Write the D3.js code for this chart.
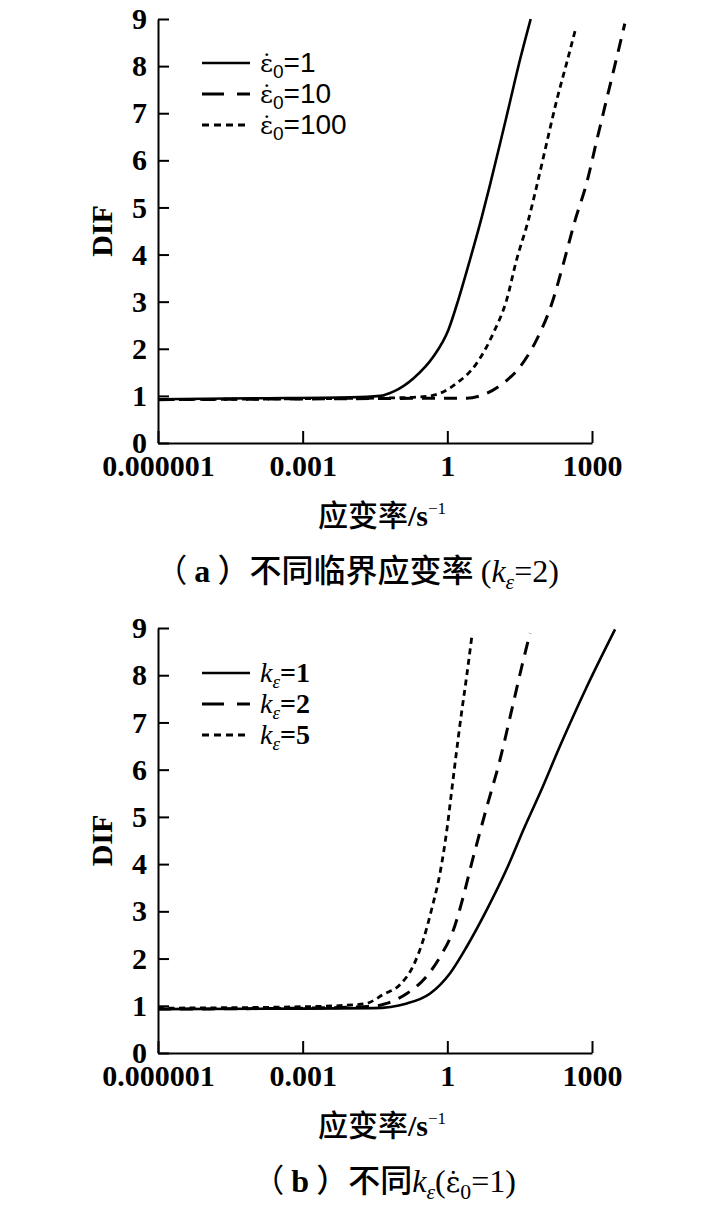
<!DOCTYPE html>
<html>
<head>
<meta charset="utf-8">
<script src="https://cdn.jsdelivr.net/npm/d3@7"></script>
<style>
  html, body { margin: 0; padding: 0; background: #fff; }
  svg { display: block; }
</style>
</head>
<body>
<div id="chart"></div>
<script>
// tick values and labels (shared by both panels)
const rateTicks = [1e-6, 1e-3, 1, 1000];
const rateTickLabels = ["0.000001", "0.001", "1", "1000"];
const difTicks = [0, 1, 2, 3, 4, 5, 6, 7, 8, 9];

// panel (a): different critical strain rates, k_eps = 2   [strain rate, DIF]
const aRate1 = [[1e-6, 0.93], [1e-4, 0.95], [0.01, 0.97], [0.04, 1.0], [0.076, 1.09], [0.197, 1.37],
  [0.51, 1.83], [1.05, 2.4], [1.69, 3.04], [2.95, 3.89], [5.16, 4.79], [7.67, 5.48], [12.3, 6.34],
  [18.2, 7.07], [32.4, 8.15], [53.5, 9.0]];
const aRate10 = [[1e-6, 0.92], [0.01, 0.94], [1, 0.95], [2.5, 0.95], [4.8, 1.0], [14.5, 1.27],
  [32.4, 1.62], [70.8, 2.19], [148, 2.97], [257, 3.82], [447, 4.73], [776, 5.52], [1259, 6.43],
  [1995, 7.28], [3236, 8.17], [4786, 8.9]];
const aRate100 = [[1e-6, 0.92], [1e-3, 0.94], [0.1, 0.96], [0.44, 1.0], [1.57, 1.27], [4.05, 1.69],
  [8.97, 2.33], [17, 3.04], [27.3, 3.89], [47.9, 4.73], [70.8, 5.44], [115, 6.37], [186, 7.28],
  [299, 8.07], [468, 8.83]];

// panel (b): different k_eps, critical rate = 1
const bK1 = [[1e-6, 0.93], [1e-3, 0.94], [0.029, 0.95], [0.145, 1.05], [0.44, 1.26], [1.14, 1.69],
  [2.52, 2.25], [6.56, 3.03], [17.1, 3.9], [40.7, 4.8], [83, 5.5], [217, 6.5], [776, 7.75],
  [3006, 8.97]];
const bK2 = [[1e-6, 0.93], [1e-3, 0.95], [0.029, 0.99], [0.055, 1.05], [0.145, 1.26], [0.37, 1.62],
  [0.71, 2.04], [1.33, 2.6], [2.14, 3.31], [3.2, 4.02], [4.39, 4.55], [6.75, 5.25], [12.3, 6.2],
  [21.6, 7.26], [34.9, 8.18], [51.9, 8.89]];
const bK5 = [[1e-6, 0.95], [1e-3, 0.98], [0.011, 1.02], [0.021, 1.05], [0.047, 1.24], [0.105, 1.45],
  [0.197, 1.85], [0.318, 2.4], [0.474, 3.05], [0.705, 3.81], [0.851, 4.3], [1, 4.8], [1.175, 5.38],
  [1.44, 6.12], [1.92, 7.12], [2.51, 7.97], [3.2, 8.8]];

const W = 711, H = 1213;
const serif = "'Liberation Serif', 'Times New Roman', serif";
const dotSerif = "'DejaVu Serif', serif";
const sans = "'Liberation Sans', Arial, sans-serif";
const cjk = "'Noto Sans CJK SC', sans-serif";

const styles = {
  solid: { width: 2.6, dash: null, legendDash: null },
  dashed: { width: 3, dash: "13,9", legendDash: "22,13" },
  dotted: { width: 2.8, dash: "6,4.5", legendDash: "7,5" }
};

const svg = d3.select("#chart").append("svg")
  .attr("width", W).attr("height", H)
  .attr("viewBox", `0 0 ${W} ${H}`);

svg.append("rect").attr("width", W).attr("height", H).attr("fill", "#fff");

// writes a list of text pieces as tspans ({t, it, sub, afterSub, bold, font, size, weight})
function richText(sel, parts, baseSize) {
  parts.forEach((p) => {
    const ts = sel.append("tspan").text(p.t);
    if (p.font) ts.attr("font-family", p.font);
    if (p.it) ts.attr("font-style", "italic");
    if (p.bold) ts.attr("font-weight", "bold");
    if (p.weight) ts.attr("font-weight", p.weight);
    if (p.sub) ts.attr("font-size", baseSize * 0.68).attr("dy", baseSize * 0.22);
    else if (p.afterSub) ts.attr("dy", -baseSize * 0.22);
    if (p.size) ts.attr("font-size", p.size);
  });
}

function drawPanel(cfg) {
  const left = 158, right = 592;
  const x = d3.scaleLog().domain([1e-6, 1000]).range([left, right]);
  const y = d3.scaleLinear().domain([0, 9]).range([cfg.bottom, cfg.top]);

  const g = svg.append("g");

  // axes
  const xAxis = d3.axisBottom(x).tickValues(rateTicks)
    .tickFormat((d, i) => rateTickLabels[i])
    .tickSizeInner(-12).tickSizeOuter(0).tickPadding(12);
  const yAxis = d3.axisLeft(y).tickValues(difTicks)
    .tickFormat(d3.format("d"))
    .tickSizeInner(-11).tickSizeOuter(0).tickPadding(11);

  [g.append("g").attr("transform", `translate(0,${cfg.bottom})`).call(xAxis),
   g.append("g").attr("transform", `translate(${left},0)`).call(yAxis)]
    .forEach((ax) => {
      ax.attr("font-family", serif).attr("font-size", 30).attr("font-weight", "bold");
      ax.selectAll("path, line").attr("stroke", "#000").attr("stroke-width", 2);
      ax.selectAll("text").attr("fill", "#000");
    });

  // curves
  const line = d3.line()
    .x((d) => x(d[0]))
    .y((d) => y(d[1]))
    .curve(d3.curveMonotoneX);

  cfg.series.forEach((s) => {
    const st = styles[s.style];
    g.append("path")
      .datum(s.data)
      .attr("d", line)
      .attr("fill", "none")
      .attr("stroke", "#000")
      .attr("stroke-width", st.width)
      .attr("stroke-dasharray", st.dash);
  });

  // legend
  cfg.series.forEach((s, i) => {
    const st = styles[s.style];
    const ly = cfg.legendY + i * 31;
    g.append("line")
      .attr("x1", 202).attr("x2", 250)
      .attr("y1", ly).attr("y2", ly)
      .attr("stroke", "#000")
      .attr("stroke-width", st.width)
      .attr("stroke-dasharray", st.legendDash);
    const t = g.append("text")
      .attr("x", 260).attr("y", ly + 9)
      .attr("font-family", serif).attr("font-size", 28);
    richText(t, s.label, 28);
  });

  // y title
  g.append("text")
    .attr("transform", `translate(112,${(cfg.top + cfg.bottom) / 2}) rotate(-90)`)
    .attr("text-anchor", "middle")
    .attr("font-family", serif).attr("font-weight", "bold").attr("font-size", 30)
    .text("DIF");

  // x title
  const xt = g.append("text")
    .attr("x", 382).attr("y", cfg.bottom + 83)
    .attr("text-anchor", "middle")
    .attr("font-size", 30);
  xt.append("tspan").attr("font-family", cjk).attr("font-weight", 500).text("应变率");
  xt.append("tspan").attr("font-family", serif).attr("font-weight", "bold").text("/s");
  xt.append("tspan").attr("font-family", serif).attr("font-size", 17).attr("dy", -12).text("−1");

  // caption
  const cap = g.append("text")
    .attr("x", cfg.capX).attr("y", cfg.bottom + 139)
    .attr("text-anchor", "middle")
    .attr("font-size", 32);
  richText(cap, cfg.caption, 32);
}

const epsDot = (n) => [
  { t: "ε̇", font: dotSerif, size: 25 },
  { t: "0", sub: true, font: sans },
  { t: "=" + n, afterSub: true, font: sans }
];
const kEps = (n) => [
  { t: "k", it: true, font: serif },
  { t: "ε", it: true, sub: true, font: serif },
  { t: "=" + n, afterSub: true, font: serif, bold: true }
];

drawPanel({
  top: 19, bottom: 443, legendY: 63, capX: 357,
  series: [
    { data: aRate1, style: "solid", label: epsDot(1) },
    { data: aRate10, style: "dashed", label: epsDot(10) },
    { data: aRate100, style: "dotted", label: epsDot(100) }
  ],
  caption: [
    { t: "（ ", font: cjk },
    { t: "a", font: serif, bold: true },
    { t: " ）不同临界应变率 ", font: cjk, weight: 500 },
    { t: "(", font: serif },
    { t: "k", font: serif, it: true },
    { t: "ε", font: serif, it: true, sub: true },
    { t: "=2)", font: serif, afterSub: true }
  ]
});

drawPanel({
  top: 628, bottom: 1053, legendY: 673, capX: 384,
  series: [
    { data: bK1, style: "solid", label: kEps(1) },
    { data: bK2, style: "dashed", label: kEps(2) },
    { data: bK5, style: "dotted", label: kEps(5) }
  ],
  caption: [
    { t: "（ ", font: cjk },
    { t: "b", font: serif, bold: true },
    { t: " ）不同", font: cjk, weight: 500 },
    { t: "k", font: serif, it: true },
    { t: "ε", font: serif, it: true, sub: true },
    { t: "(", font: serif, afterSub: true },
    { t: "ε̇", font: dotSerif, size: 28 },
    { t: "0", font: serif, sub: true },
    { t: "=1)", font: serif, afterSub: true }
  ]
});
</script>
</body>
</html>
